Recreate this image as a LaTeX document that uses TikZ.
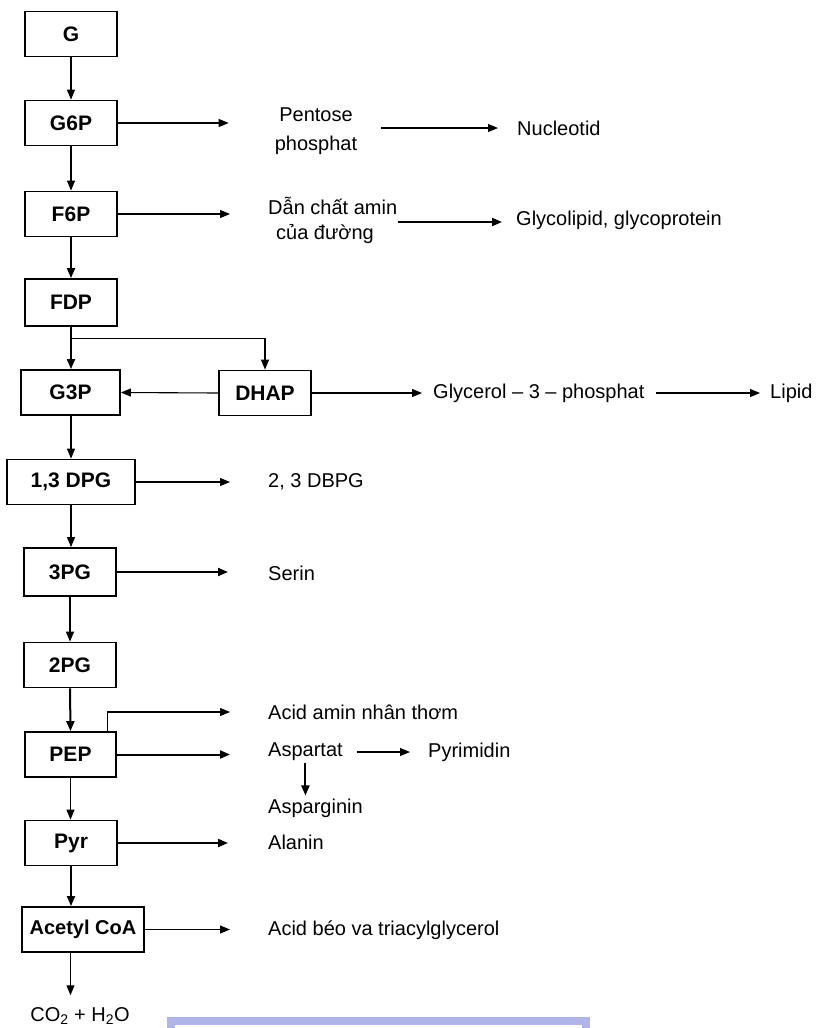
\documentclass[tikz,border=0pt]{standalone}
\usepackage{fontspec}
\setmainfont{Liberation Sans}
\usetikzlibrary{arrows.meta}
\definecolor{lavborder}{RGB}{176,180,232}
\definecolor{lavfill}{RGB}{250,250,255}
\begin{document}
\begin{tikzpicture}[x=1pt,y=-1pt,
  box/.style={draw, line width=1.8pt, minimum height=45pt, inner sep=0pt, font=\fontsize{21}{24}\selectfont\bfseries},
  lbl/.style={inner sep=0pt, anchor=west, font=\fontsize{20}{24}\selectfont},
  arr/.style={line width=1.1pt, -{Triangle[length=10pt,width=8pt]}},
  arrb/.style={line width=2pt, -{Triangle[length=10pt,width=8pt]}},
]
\useasboundingbox (0,0) rectangle (816,1028);
\fill[white] (0,0) rectangle (816,1028);

% main column
\node[box, minimum width=92pt] (g)    at (71,34)    {G};
\node[box, minimum width=92pt] (g6p)  at (71,123)   {G6P};
\node[box, minimum width=92pt] (f6p)  at (71,214)   {F6P};
\node[box, minimum width=92pt, minimum height=47pt] (fdp)  at (71,302.5) {FDP};
\node[box, minimum width=99pt] (g3p)  at (70.5,392.5) {G3P};
\node[box, minimum width=92pt] (dhap) at (265,393)  {DHAP};
\node[box, minimum width=128pt] (dpg) at (71,482)   {1,3 DPG};
\node[box, minimum width=92pt, minimum height=48pt] (pg3) at (70,572) {3PG};
\node[box, minimum width=92pt] (pg2)  at (70,665)   {2PG};
\node[box, minimum width=91pt] (pep)  at (70.5,754.5) {PEP};
\node[box, minimum width=92pt] (pyr)  at (71,843)   {Pyr};
\node[box, minimum width=122pt, font=\fontsize{20}{24}\selectfont\bfseries] (acoa) at (83,929.5) {Acetyl CoA};
\node[lbl, anchor=center] (co2) at (80,1016) {CO\textsubscript{2} + H\textsubscript{2}O};

% side labels
\node[lbl, anchor=center, align=center, font=\fontsize{20}{29}\selectfont] (pen) at (316,131) {Pentose\\phosphat};
\node[lbl] (nuc) at (517,128) {Nucleotid};
\node[lbl, align=left, font=\fontsize{20}{25}\selectfont] (dan) at (268,220) {Dẫn chất amin\\\hspace*{8pt}của đường};
\node[lbl] (gly) at (516,220) {Glycolipid, glycoprotein};
\node[lbl] (glyc) at (433,393) {Glycerol – 3 – phosphat};
\node[lbl] (lip) at (770,393) {Lipid};
\node[lbl] (dbpg) at (268,482) {2, 3 DBPG};
\node[lbl] (ser) at (268,573) {Serin};
\node[lbl] (aan) at (268,712) {Acid amin nhân thơm};
\node[lbl] (asp) at (268,752) {Aspartat};
\node[lbl] (pyrim) at (428,752) {Pyrimidin};
\node[lbl] (aspn) at (268,808) {Asparginin};
\node[lbl] (ala) at (268,842) {Alanin};
\node[lbl] (beo) at (268,930) {Acid béo va triacylglycerol};

% column arrows
\draw[arr]  (g.south) -- (g6p.north);
\draw[arr]  (g6p.south) -- (f6p.north);
\draw[arrb] (f6p.south) -- (fdp.north);
\draw[arrb] (fdp.south) -- (fdp.south |- g3p.north);
\coordinate (jn) at ([yshift=-12pt]fdp.south);
\draw[arr]  (jn) -| (dhap.north);
\draw[arr]  (dhap.west) -- (g3p.east);
\draw[arr]  (g3p.south -| dpg.north) -- (dpg.north);
\draw[arr]  (dpg.south) -- (dpg.south |- pg3.north);
\draw[arr]  (pg3.south) -- (pg2.north);
\draw[arrb] (pg2.south) -- (pep.north);
\draw[arr]  (pep.south) -- (pep.south |- pyr.north);
\draw[arrb] (pyr.south) -- (pyr.south |- acoa.north);
\draw[arr, shorten >=12pt]  (acoa.south -| pep.south) -- (co2.north -| pep.south);

% side arrows
\draw[arr, shorten >=46pt] (g6p.east) -- (g6p.east -| pen.west);
\draw[arr, shorten <=24pt, shorten >=19pt] (nuc.west -| pen.east) -- (nuc.west);
\draw[arr, shorten >=38pt] (f6p.east) -- (f6p.east -| dan.west);
\draw[arrb, shorten <=1pt, shorten >=14pt] ([yshift=-2pt]gly.west -| dan.east) -- ([yshift=-2pt]gly.west);
\draw[arr, shorten >=11pt] (dhap.east) -- (dhap.east -| glyc.west);
\draw[arr, shorten <=11pt, shorten >=10pt] (glyc.east) -- (lip.west);
\draw[arr, shorten >=38pt] (dpg.east) -- (dpg.east -| dbpg.west);
\draw[arrb, shorten >=40pt] (pg3.east) -- (pg3.east -| ser.west);
\draw[arr, shorten >=38pt] ([xshift=-9pt]pep.north east) |- (aan.west);
\draw[arrb, shorten >=38pt] (pep.east) -- (pep.east -| asp.west);
\draw[arr, shorten <=14pt, shorten >=18pt] (asp.east) -- (pyrim.west);
\draw[arrb, shorten <=2pt, shorten >=3pt] (asp.south) -- (asp.south |- aspn.north);
\draw[arrb, shorten >=40pt] (pyr.east) -- (pyr.east -| ala.west);
\draw[arr, shorten >=38pt] (acoa.east) -- (acoa.east -| beo.west);

% light lavender panel at the bottom edge
\fill[lavborder] (167,1017) rectangle (590,1028);
\fill[lavfill] (175,1025) rectangle (582,1028);
\end{tikzpicture}
\end{document}
